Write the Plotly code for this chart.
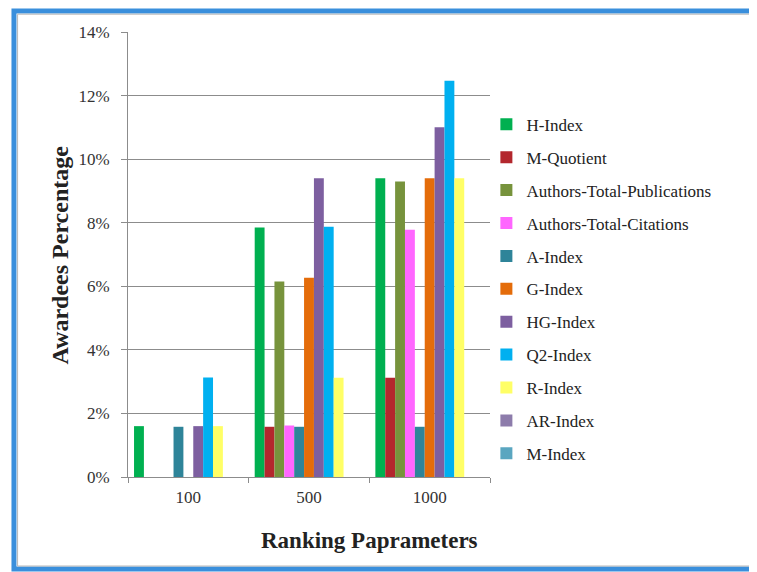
import plotly.graph_objects as go

# ranking parameter groups on the x axis
categories = ['100', '500', '1000']

# awardees percentage per index (one list per index, in %)
h_index = [1.6, 7.85, 9.4]
m_quotient = [0, 1.58, 3.12]
authors_total_publications = [0, 6.15, 9.3]
authors_total_citations = [0, 1.62, 7.78]
a_index = [1.58, 1.58, 1.58]
g_index = [0, 6.27, 9.4]
hg_index = [1.6, 9.4, 11.0]
q2_index = [3.13, 7.87, 12.47]
r_index = [1.6, 3.12, 9.4]
ar_index = [0, 0, 0]
m_index = [0, 0, 0]

series = [
    ('H-Index', h_index, '#00b050'),
    ('M-Quotient', m_quotient, '#b3272d'),
    ('Authors-Total-Publications', authors_total_publications, '#77933c'),
    ('Authors-Total-Citations', authors_total_citations, '#ff66ff'),
    ('A-Index', a_index, '#2e8499'),
    ('G-Index', g_index, '#e46c0a'),
    ('HG-Index', hg_index, '#7d5fa0'),
    ('Q2-Index', q2_index, '#00b0f0'),
    ('R-Index', r_index, '#ffff66'),
    ('AR-Index', ar_index, '#8d7cab'),
    ('M-Index', m_index, '#5aa6c0'),
]

serif = 'Liberation Serif'

fig = go.Figure()
for name, vals, color in series:
    fig.add_trace(go.Bar(x=categories, y=[v / 100 for v in vals], name=name,
                         marker=dict(color=color, line=dict(width=0)),
                         legendgroup=name))

# page has an 8px body margin, so the figure is 749x564
fig.update_layout(
    width=749, height=564,
    barmode='group', bargap=0.1, bargroupgap=0,
    paper_bgcolor='white', plot_bgcolor='white',
    margin=dict(l=120, r=267, t=24, b=95),
    font=dict(family=serif, size=17, color='#222222'),
    showlegend=True,
    legend=dict(x=0.99, y=0.832, xanchor='left', yanchor='top',
                font=dict(family=serif, size=17, color='#222222'),
                tracegroupgap=7.8, bgcolor='rgba(0,0,0,0)'),
    annotations=[
        dict(text='<b>Ranking Paprameters</b>', xref='paper', yref='paper',
             x=0.668, y=-0.142, xanchor='center', yanchor='middle', showarrow=False,
             font=dict(family=serif, size=23, color='#222222')),
        dict(text='<b>Awardees Percentage</b>', xref='paper', yref='paper',
             x=-0.188, y=0.5, xanchor='center', yanchor='middle', showarrow=False,
             textangle=-90, font=dict(family=serif, size=24, color='#222222')),
    ],
    shapes=[
        dict(type='rect', xref='paper', yref='paper', x0=-0.315, x1=1.8,
             y0=-0.207, y1=1.047, line=dict(color='#3a8fdc', width=5),
             layer='below'),
        dict(type='rect', xref='paper', yref='paper', x0=-0.305, x1=1.8,
             y0=-0.2, y1=1.04, line=dict(color='#b8b8b8', width=1),
             layer='below'),
    ],
)

fig.update_xaxes(showgrid=False, showline=True, linecolor='#8c8c8c', linewidth=1,
                 ticks='outside', tickson='boundaries', ticklen=5, tickcolor='#8c8c8c',
                 ticklabelstandoff=5,
                 tickfont=dict(family=serif, size=17, color='#333333'))
fig.update_yaxes(range=[0, 0.14], dtick=0.02, tickformat='.0%',
                 showgrid=True, gridcolor='#8c8c8c', gridwidth=1,
                 showline=True, linecolor='#8c8c8c', linewidth=1,
                 ticks='outside', ticklen=6, tickcolor='#8c8c8c',
                 ticklabelstandoff=8,
                 tickfont=dict(family=serif, size=17, color='#333333'))

fig.write_html("out.html")
